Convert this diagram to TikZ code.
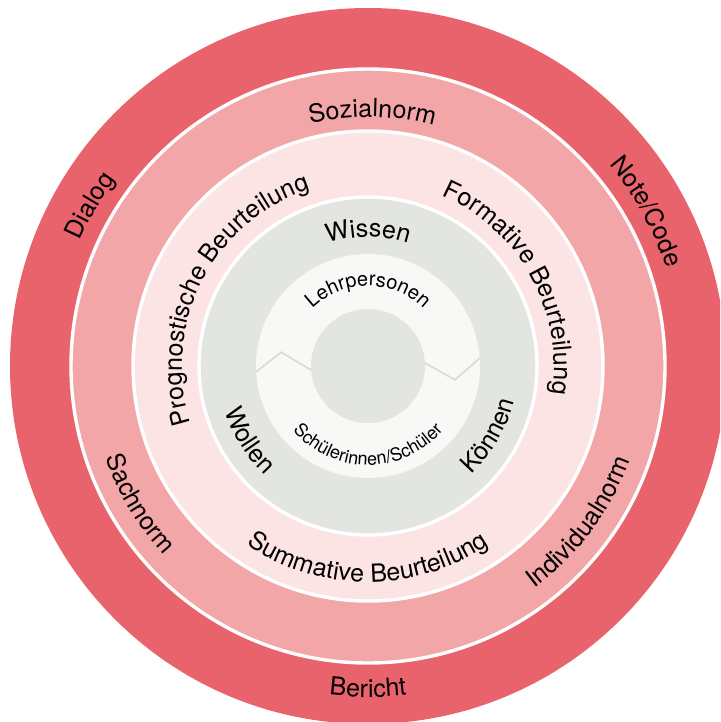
\documentclass[tikz,border=0pt]{standalone}
\usepackage{fontspec}
\setmainfont{TeX Gyre Heros}
\usetikzlibrary{decorations.text}
\definecolor{outerred}{HTML}{E8636C}
\definecolor{midpink}{HTML}{F2A6A8}
\definecolor{lightpink}{HTML}{FCE4E5}
\definecolor{sage}{HTML}{E2E5E0}
\definecolor{ringwhite}{HTML}{F8F8F7}
\definecolor{zigzag}{HTML}{D8DAD5}
\tikzstyle{ring}=[draw=white,line width=1.7pt]
\tikzstyle{zig}=[draw=zigzag,line width=0.8pt,line join=miter]
\newcommand{\bigfont}{\fontsize{12.5}{15}\selectfont}
\newcommand{\midfont}{\fontsize{10}{12}\selectfont}
\newcommand{\smallfont}{\fontsize{9}{11}\selectfont}
% text on an arc, read clockwise (top half) or counterclockwise (bottom half)
\newcommand{\toplabel}[4]{%
  \path[decorate,decoration={text along path,text align=center,text={|#3|#4}}]
    (#1+70:#2) arc[start angle=#1+70,end angle=#1-70,radius=#2];}
\newcommand{\bottomlabel}[4]{%
  \path[decorate,decoration={text along path,text align=center,text={|#3|#4}}]
    (#1-70:#2) arc[start angle=#1-70,end angle=#1+70,radius=#2];}

\begin{document}
\begin{tikzpicture}[x=0.5pt,y=0.5pt]
    \useasboundingbox[fill=white] (0,0) rectangle (720,-722);
    \clip (0,0) rectangle (720,-722);
    \begin{scope}[shift={(368,-366)}]
    % First we draw the bands, outside in
    \fill[outerred] (0,0) circle (358);
    \foreach \rad/\col in {297/midpink, 235/lightpink, 169/sage}
        \path[ring, fill=\col] (0,0) circle (\rad);
    \fill[ringwhite] (0,0) circle (112);
    \fill[sage] (0,0) circle (57);
    % the two bends in the white ring
    \draw[zig] (183:112) -- (171:88) -- (184:57);
    \draw[zig] (3:57) -- (351:88) -- (4:112);

    % Then the labels
    \toplabel{150}{314}{\bigfont}{Dialog}
    \toplabel{29}{314}{\bigfont}{Note/Code}
    \bottomlabel{270}{331}{\bigfont}{Bericht}
    \toplabel{89}{249}{\bigfont}{Sozialnorm}
    \bottomlabel{211}{278}{\bigfont}{Sachnorm}
    \bottomlabel{323.5}{278}{\bigfont}{Individualnorm}
    \toplabel{153}{186}{\bigfont}{Prognostische Beurteilung}
    \toplabel{29}{186}{\bigfont}{Formative Beurteilung}
    \bottomlabel{270}{216}{\bigfont}{Summative Beurteilung}
    \toplabel{90}{129}{\bigfont}{Wissen}
    \bottomlabel{212}{150}{\bigfont}{Wollen}
    \bottomlabel{330}{150}{\bigfont}{Können}
    \toplabel{90}{80}{\midfont}{Lehrpersonen}
    \bottomlabel{270}{99}{\smallfont}{Schülerinnen/Schüler}
    \end{scope}
\end{tikzpicture}
\end{document}
